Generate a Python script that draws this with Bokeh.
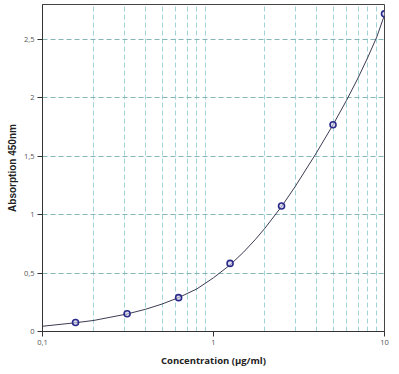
from bokeh.plotting import figure
from bokeh.models import Range1d, FixedTicker
from bokeh.embed import file_html
from bokeh.resources import INLINE

# Standard points (concentration, absorbance)
conc = [0.156, 0.3125, 0.625, 1.25, 2.5, 5, 10]
absorb = [0.077, 0.152, 0.29, 0.583, 1.075, 1.77, 2.72]

# Fitted curve
curve_x = [0.1, 0.156, 0.2, 0.3125, 0.4, 0.5, 0.625, 0.8, 1, 1.25, 1.5, 1.75, 2, 2.5, 3, 4, 5, 6, 7, 8, 9, 10]
curve_y = [0.045, 0.075, 0.095, 0.15, 0.19, 0.235, 0.29, 0.365, 0.46, 0.57, 0.68, 0.785, 0.885, 1.07, 1.24, 1.53, 1.77, 1.98, 2.17, 2.35, 2.52, 2.71]

x_ticks = [0.1, 1, 10]
x_tick_labels = ["0,1", "1", "10"]
x_minor = [0.2, 0.3, 0.4, 0.5, 0.6, 0.7, 0.8, 0.9, 2, 3, 4, 5, 6, 7, 8, 9]
y_ticks = [0, 0.5, 1, 1.5, 2, 2.5]
y_tick_labels = ["0", "0,5", "1", "1,5", "2", "2,5"]

p = figure(width=392, height=370, x_axis_type="log",
           x_range=Range1d(0.1, 10), y_range=Range1d(0, 2.8),
           output_backend="svg", toolbar_location=None,
           min_border_left=42, min_border_right=8, min_border_top=4, min_border_bottom=39)

p.outline_line_color = "#444444"
p.outline_line_width = 1
p.background_fill_color = "white"
p.border_fill_color = "white"

# x axis
p.xaxis.ticker = FixedTicker(ticks=x_ticks, minor_ticks=x_minor)
p.xaxis.major_label_overrides = {t: l for t, l in zip(x_ticks, x_tick_labels)}
p.xaxis.axis_label = "Concentration (µg/ml)"
# y axis
p.yaxis.ticker = FixedTicker(ticks=y_ticks)
p.yaxis.major_label_overrides = {t: l for t, l in zip(y_ticks, y_tick_labels)}
p.yaxis.axis_label = "Absorption 450nm"

for ax in (p.xaxis[0], p.yaxis[0]):
    ax.axis_line_color = "#333333"
    ax.axis_line_width = 1
    ax.major_tick_line_color = "#333333"
    ax.major_tick_out = 5
    ax.major_tick_in = 0
    ax.minor_tick_line_color = None
    ax.major_label_text_font = "Open Sans"
    ax.major_label_text_font_size = "7.5px"
    ax.major_label_text_color = "#555555"
    ax.major_label_standoff = 3
    ax.axis_label_text_font_style = "bold"
    ax.axis_label_text_color = "#222222"

p.xaxis.axis_label_text_font = "Open Sans"
p.xaxis.axis_label_text_font_size = "9.5px"
p.xaxis.axis_label_standoff = 6
p.yaxis.axis_label_text_font = "Liberation Sans"
p.yaxis.axis_label_text_font_size = "10px"
p.yaxis.axis_label_standoff = 3

# grids
p.xgrid.grid_line_color = None
p.xgrid.minor_grid_line_color = "#9fd3d6"
p.xgrid.minor_grid_line_dash = "5 3"
p.xgrid.minor_grid_line_width = 1
p.ygrid.ticker = FixedTicker(ticks=y_ticks[1:])
p.ygrid.grid_line_color = "#86b5b8"
p.ygrid.grid_line_dash = "5 3"
p.ygrid.grid_line_width = 1

p.line(curve_x, curve_y, line_color="#3c3c55", line_width=1)
p.scatter(conc, absorb, marker="circle", size=6, fill_color="#c8c8e6", fill_alpha=0.6,
          line_color="#2a2a8a", line_width=1.6)

open("out.html", "w").write(file_html(p, INLINE))
